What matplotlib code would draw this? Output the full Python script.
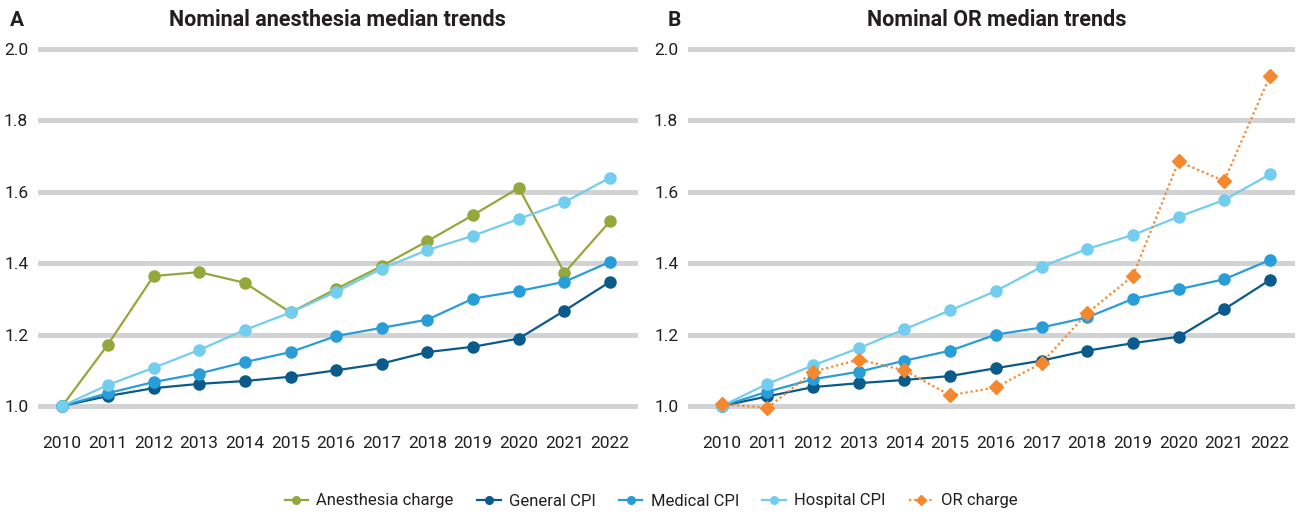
import matplotlib
matplotlib.use("Agg")
import matplotlib.pyplot as plt
from matplotlib.lines import Line2D

# -----------------------------
# Dados
# -----------------------------
years = list(range(2010, 2023))

anest_charge = [1.0, 1.172, 1.364, 1.375, 1.345, 1.262, 1.328, 1.392, 1.462, 1.535, 1.611, 1.373, 1.518]
gen_cpi_a = [1.0, 1.028, 1.050, 1.062, 1.070, 1.082, 1.100, 1.119, 1.151, 1.166, 1.189, 1.267, 1.348]
med_cpi_a = [1.0, 1.036, 1.067, 1.091, 1.123, 1.151, 1.196, 1.219, 1.242, 1.301, 1.322, 1.348, 1.404]
hosp_cpi_a = [1.0, 1.059, 1.107, 1.157, 1.213, 1.262, 1.320, 1.385, 1.437, 1.477, 1.524, 1.571, 1.640]

or_charge = [1.005, 0.995, 1.096, 1.130, 1.100, 1.030, 1.052, 1.120, 1.260, 1.364, 1.685, 1.630, 1.924]
gen_cpi_b = [1.0, 1.027, 1.053, 1.064, 1.073, 1.084, 1.106, 1.127, 1.155, 1.176, 1.194, 1.271, 1.353]
med_cpi_b = [1.0, 1.040, 1.075, 1.096, 1.127, 1.155, 1.200, 1.220, 1.248, 1.300, 1.327, 1.355, 1.409]
hosp_cpi_b = [1.0, 1.062, 1.114, 1.162, 1.215, 1.268, 1.322, 1.390, 1.440, 1.479, 1.530, 1.577, 1.649]

yticks = [1.0, 1.2, 1.4, 1.6, 1.8, 2.0]

# cores
c_anest = "#93a83b"
c_gen = "#0a5a8a"
c_med = "#289dd8"
c_hosp = "#72cdef"
c_or = "#f5882f"
c_grid = "#d1d2d4"
c_text = "#231f20"

plt.rcParams["font.family"] = ["Roboto", "DejaVu Sans"]

# -----------------------------
# Figura
# -----------------------------
fig = plt.figure(figsize=(13.02, 5.15), dpi=100)
ax_a = fig.add_axes([38 / 1302, 0.1839, 600 / 1302, 0.7279])
ax_b = fig.add_axes([688 / 1302, 0.1839, 607 / 1302, 0.7279])


def estilo(ax, xlim):
    ax.set_xlim(*xlim)
    ax.set_ylim(0.96, 2.01)
    for s in ax.spines.values():
        s.set_visible(False)
    for v in yticks:
        ax.axhline(v, color=c_grid, lw=3.6, zorder=0)
    ax.set_yticks(yticks)
    ax.set_yticklabels([f"{v:.1f}" for v in yticks])
    ax.set_xticks(years)
    ax.set_xticklabels([str(y) for y in years])
    ax.tick_params(length=0, labelsize=12.5, colors=c_text)
    ax.tick_params(axis="y", pad=7)
    ax.tick_params(axis="x", pad=11)


def serie(ax, vals, cor, z):
    ax.plot(years, vals, color=cor, lw=1.6, marker="o", ms=8, zorder=z, clip_on=False)


# (A) anestesia
estilo(ax_a, (2009.47, 2022.61))
serie(ax_a, anest_charge, c_anest, 3)
serie(ax_a, gen_cpi_a, c_gen, 4)
serie(ax_a, med_cpi_a, c_med, 5)
serie(ax_a, hosp_cpi_a, c_hosp, 6)

# (B) sala operatória
estilo(ax_b, (2009.26, 2022.55))
serie(ax_b, gen_cpi_b, c_gen, 4)
serie(ax_b, med_cpi_b, c_med, 5)
serie(ax_b, hosp_cpi_b, c_hosp, 6)
ax_b.plot(years, or_charge, color=c_or, lw=1.6, ls=(0, (1, 1.3)), marker="D", ms=7.5,
          zorder=7, clip_on=False)

# titulos
fig.text(10 / 1302, 1 - 20 / 515, "A", fontsize=15, fontweight="bold", color=c_text, va="center")
fig.text(337 / 1302, 1 - 20 / 515, "Nominal anesthesia median trends", fontsize=15.5,
         fontweight="bold", color=c_text, ha="center", va="center")
fig.text(668 / 1302, 1 - 20 / 515, "B", fontsize=15, fontweight="bold", color=c_text, va="center")
fig.text(997 / 1302, 1 - 20 / 515, "Nominal OR median trends", fontsize=15.5,
         fontweight="bold", color=c_text, ha="center", va="center")

# legenda
handles = [
    Line2D([], [], color=c_anest, lw=1.6, marker="o", ms=5.5),
    Line2D([], [], color=c_gen, lw=1.6, marker="o", ms=5.5),
    Line2D([], [], color=c_med, lw=1.6, marker="o", ms=5.5),
    Line2D([], [], color=c_hosp, lw=1.6, marker="o", ms=5.5),
    Line2D([], [], color=c_or, lw=1.6, ls=(0, (1, 1.3)), marker="D", ms=5),
]
labels = ["Anesthesia charge", "General CPI", "Medical CPI", "Hospital CPI", "OR charge"]
leg = fig.legend(handles, labels, loc="center", bbox_to_anchor=(0.5, 1 - 501 / 515), ncol=5,
                 frameon=False, fontsize=12, handlelength=1.4, columnspacing=1.4,
                 handletextpad=0.5)
for t in leg.get_texts():
    t.set_color(c_text)

fig.savefig("out.png", dpi=100)
